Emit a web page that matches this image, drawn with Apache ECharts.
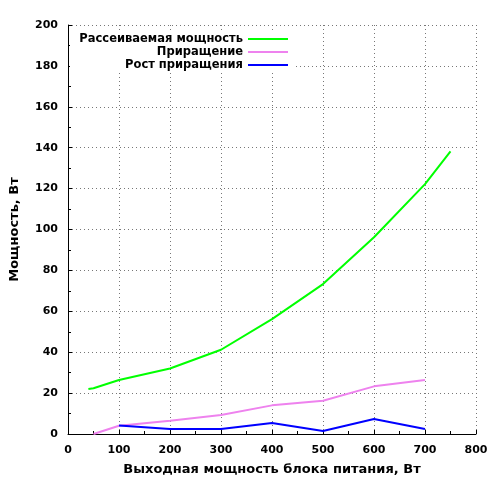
<!DOCTYPE html>
<html>
<head>
<meta charset="utf-8">
<script src="https://cdn.jsdelivr.net/npm/echarts@6/dist/echarts.min.js"></script>
<style>
  html, body { margin: 0; padding: 0; background: #fff; }
  #chart { width: 500px; height: 500px; }
</style>
</head>
<body>
<div id="chart"></div>
<script>
// Рассеиваемая мощность
var dissX = [40, 50, 100, 200, 300, 400, 500, 600, 700, 750];
var dissY = [22, 22.4, 26.4, 32, 41.2, 56.2, 73.3, 96.2, 122.2, 138.2];
// Приращение
var incX = [50, 100, 200, 300, 400, 500, 600, 700];
var incY = [0, 4, 6.5, 9.3, 14, 16.3, 23.3, 26.4];
// Рост приращения
var growX = [100, 200, 300, 400, 500, 600, 700];
var growY = [4.2, 2.4, 2.4, 5.4, 1.5, 7.3, 2.4];

var seriesNames = ['Рассеиваемая мощность', 'Приращение', 'Рост приращения'];
var seriesColors = ['#00ff00', '#ee82ee', '#0000ff'];

function pairs(xs, ys) {
    return xs.map(function (x, i) { return [x, ys[i]]; });
}

var font = 'DejaVu Sans';
var gridLine = { show: true, lineStyle: { color: '#777', type: [1, 3], width: 1 } };

var chart = echarts.init(document.getElementById('chart'));

var legends = seriesNames.map(function (name, i) {
    return {
        data: [name],
        right: 212,
        top: 33 + i * 13,
        align: 'right',
        orient: 'vertical',
        icon: 'rect',
        itemWidth: 40,
        itemHeight: 2,
        padding: [0, 0, 0, 0],
        backgroundColor: '#fff',
        selectedMode: false,
        textStyle: { fontFamily: font, fontWeight: 'bold', fontSize: 11.5, color: '#000' }
    };
});

chart.setOption({
    animation: false,
    backgroundColor: '#fff',
    grid: { left: 66, right: 24, top: 25, bottom: 66 },
    legend: legends,
    graphic: [{
        type: 'rect', z: 1,
        shape: { x: 70, y: 32, width: 225, height: 40 },
        style: { fill: '#fff' }
    }],
    xAxis: {
        type: 'value',
        min: 0, max: 800, interval: 100,
        name: 'Выходная мощность блока питания, Вт',
        nameLocation: 'middle',
        nameGap: 29,
        nameTextStyle: { fontFamily: font, fontWeight: 'bold', fontSize: 13, color: '#000' },
        axisLine: { show: true, lineStyle: { color: '#000', width: 1 } },
        axisTick: { show: true, inside: true, length: 4, lineStyle: { color: '#000' } },
        minorTick: { show: true, splitNumber: 2, length: 3, lineStyle: { color: '#000' } },
        axisLabel: { fontFamily: font, fontWeight: 'bold', fontSize: 11, color: '#000', margin: 11 },
        splitLine: gridLine
    },
    yAxis: {
        type: 'value',
        min: 0, max: 200, interval: 20,
        name: 'Мощность, Вт',
        nameLocation: 'middle',
        nameGap: 47,
        nameTextStyle: { fontFamily: font, fontWeight: 'bold', fontSize: 13, color: '#000' },
        axisLine: { show: true, lineStyle: { color: '#000', width: 1 } },
        axisTick: { show: true, inside: true, length: 4, lineStyle: { color: '#000' } },
        minorTick: { show: true, splitNumber: 2, length: 3, lineStyle: { color: '#000' } },
        axisLabel: { fontFamily: font, fontWeight: 'bold', fontSize: 11, color: '#000', margin: 10 },
        splitLine: gridLine
    },
    series: [
        { name: seriesNames[0], type: 'line', data: pairs(dissX, dissY) },
        { name: seriesNames[1], type: 'line', data: pairs(incX, incY) },
        { name: seriesNames[2], type: 'line', data: pairs(growX, growY) }
    ].map(function (s, i) {
        s.showSymbol = false;
        s.symbol = 'none';
        s.color = seriesColors[i];
        s.lineStyle = { width: 2, color: seriesColors[i] };
        s.z = 3;
        return s;
    })
});
</script>
</body>
</html>
